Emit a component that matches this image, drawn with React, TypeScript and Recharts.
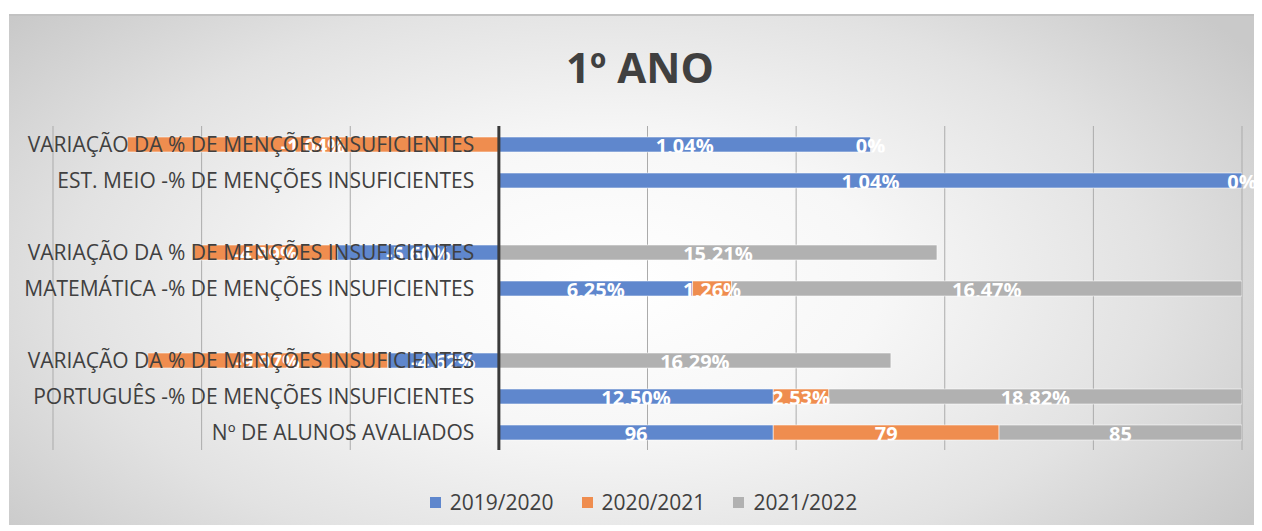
import React from "react";
import {
  BarChart,
  Bar,
  Cell,
  XAxis,
  YAxis,
  CartesianGrid,
  ReferenceLine,
  LabelList,
  Legend,
} from "recharts";

// ---------- data ----------
const categories = [
  "VARIAÇÃO DA % DE MENÇÕES INSUFICIENTES",
  "EST. MEIO -% DE MENÇÕES INSUFICIENTES",
  "",
  "VARIAÇÃO DA % DE MENÇÕES INSUFICIENTES",
  "MATEMÁTICA -% DE MENÇÕES INSUFICIENTES",
  " ",
  "VARIAÇÃO DA % DE MENÇÕES INSUFICIENTES",
  "PORTUGUÊS -% DE MENÇÕES INSUFICIENTES",
  "Nº DE ALUNOS AVALIADOS",
];
const values2019: (number | null)[] = [1.04, 1.04, null, -5.6, 6.25, null, -4.62, 12.5, 96];
const values2020: (number | null)[] = [-1.04, 0, null, -4.99, 1.26, null, -9.97, 2.53, 79];
const values2021: (number | null)[] = [0, null, null, 15.21, 16.47, null, 16.29, 18.82, 85];
const isPercentRow = [true, true, false, true, true, false, true, true, false];
const seriesNames = ["2019/2020", "2020/2021", "2021/2022"];
const seriesColors = ["#5F87CD", "#EF8D4F", "#B1B1B1"];
const xTicks = [-0.6, -0.4, -0.2, 0, 0.2, 0.4, 0.6, 0.8, 1];
const title = "1º ANO";

// ---------- layout constants ----------
const CHART_W = 1253;
const CHART_H = 517;
const M_LEFT = 43;
const M_TOP = 112;
const PLOT_W = 1190;
const PLOT_H = 324;
const X_MIN = -0.6;
const X_MAX = 1;
const FONT = "'Open Sans', 'Noto Sans', sans-serif";
const TEXT_COLOR = "#404040";

const fmt = (v: number | null, pct: boolean): string | null => {
  if (v == null) return null;
  if (!pct) return String(v);
  if (v === 0) return "0%";
  return v.toFixed(2).replace(".", ",") + "%";
};

const keys = ["a", "b", "c"];
const rawSeries = [values2019, values2020, values2021];
const data = categories.map((name, i) => {
  const raw = [values2019[i], values2020[i], values2021[i]];
  const total = raw.reduce((s: number, v) => s + (v == null ? 0 : Math.abs(v)), 0);
  const row: any = { name };
  keys.forEach((k, j) => {
    const v = raw[j];
    row[k] = v == null || total === 0 ? undefined : v / total;
    row["l" + k] = fmt(v, isPercentRow[i]);
  });
  return row;
});

const makeLabel = (key: string) => (props: any) => {
  const { value, index } = props;
  if (value == null || value === "") return null;
  const vb = props.viewBox || {};
  const x = props.x ?? vb.x;
  const y = props.y ?? vb.y;
  const width = props.width ?? vb.width ?? 0;
  const height = props.height ?? vb.height ?? 0;
  if (x == null || y == null) return null;
  const cx = x + width / 2;
  const top = Math.min(y, y + height);
  const h = Math.abs(height);
  const id = `lblclip-${key}-${index}`;
  return (
    <g>
      <defs>
        <clipPath id={id}>
          <rect x={-3000} y={top - 10} width={8000} height={h + 10.5} />
        </clipPath>
      </defs>
      <text
        x={cx}
        y={top + h + 1}
        textAnchor="middle"
        fill="#FFFFFF"
        fontSize={20}
        fontWeight={700}
        fontFamily={FONT}
        clipPath={`url(#${id})`}
      >
        {value}
      </text>
    </g>
  );
};

const CategoryTick = (props: any) => {
  const { y, payload } = props;
  const zeroX = M_LEFT + (PLOT_W * (0 - X_MIN)) / (X_MAX - X_MIN);
  return (
    <text
      x={zeroX - 24}
      y={y}
      dy={7.5}
      textAnchor="end"
      fill={TEXT_COLOR}
      fontSize={21}
      fontFamily={FONT}
    >
      {payload && payload.value}
    </text>
  );
};

const LegendContent = () => (
  <div
    style={{
      display: "flex",
      justifyContent: "center",
      alignItems: "center",
      fontFamily: FONT,
      fontSize: 21,
      color: TEXT_COLOR,
      lineHeight: "24px",
      paddingLeft: 16,
    }}
  >
    {seriesNames.map((n, i) => (
      <div key={n} style={{ display: "flex", alignItems: "center", marginRight: i < 2 ? 28 : 0 }}>
        <span
          style={{
            display: "inline-block",
            width: 11,
            height: 11,
            background: seriesColors[i],
            marginRight: 9,
          }}
        />
        <span>{n}</span>
      </div>
    ))}
  </div>
);

const minSize = (j: number) => (_v: any, index: number) => (rawSeries[j][index] === 0 ? 0.01 : 0);

export default function App() {
  return (
    <div
      style={{
        position: "relative",
        left: 1,
        top: 6,
        width: CHART_W,
        height: CHART_H,
        background:
          "radial-gradient(ellipse 62% 80% at 48% 52%, #ffffff 0%, #f7f7f7 35%, #e2e2e2 70%, #c9c9c9 100%)",
        overflow: "hidden",
      }}
    >
      <div style={{ position: "absolute", left: 0, top: 0, width: CHART_W, height: 2, background: "#C2C2C2" }} />
      <div
        style={{
          position: "absolute",
          left: 0,
          top: 28,
          width: 1262,
          textAlign: "center",
          fontFamily: FONT,
          fontWeight: 700,
          fontSize: 42,
          lineHeight: "50px",
          color: TEXT_COLOR,
        }}
      >
        {title}
      </div>
      <div style={{ position: "absolute", left: 0, top: 0 }}>
        <BarChart
          width={CHART_W}
          height={CHART_H}
          data={data}
          layout="vertical"
          stackOffset="sign"
          barSize={15}
          margin={{ top: M_TOP, right: CHART_W - M_LEFT - PLOT_W, bottom: CHART_H - M_TOP - PLOT_H, left: M_LEFT }}
        >
          <CartesianGrid horizontal={false} vertical={true} stroke="#ABABAB" strokeWidth={1} />
          <XAxis type="number" domain={[X_MIN, X_MAX]} ticks={xTicks} hide allowDataOverflow />
          <YAxis
            type="category"
            dataKey="name"
            width={1}
            axisLine={false}
            tickLine={false}
            interval={0}
            tick={<CategoryTick />}
          />
          {keys.map((k, j) => (
            <Bar
              key={k}
              dataKey={k}
              name={seriesNames[j]}
              stackId="s"
              fill={seriesColors[j]}
              minPointSize={minSize(j)}
              isAnimationActive={false}
            >
              {data.map((_d, i) => (
                <Cell
                  key={i}
                  stroke={rawSeries[j][i] ? "rgba(255,255,255,0.55)" : "none"}
                  strokeWidth={1}
                />
              ))}
              <LabelList dataKey={"l" + k} content={makeLabel(k)} zIndex={400} />
            </Bar>
          ))}
          <ReferenceLine x={0} stroke="#3A3A3A" strokeWidth={3} />
          <Legend
            verticalAlign="middle"
            align="center"
            layout="horizontal"
            content={<LegendContent />}
            wrapperStyle={{ position: "absolute", top: 476, left: 0, width: CHART_W }}
          />
        </BarChart>
      </div>
    </div>
  );
}
